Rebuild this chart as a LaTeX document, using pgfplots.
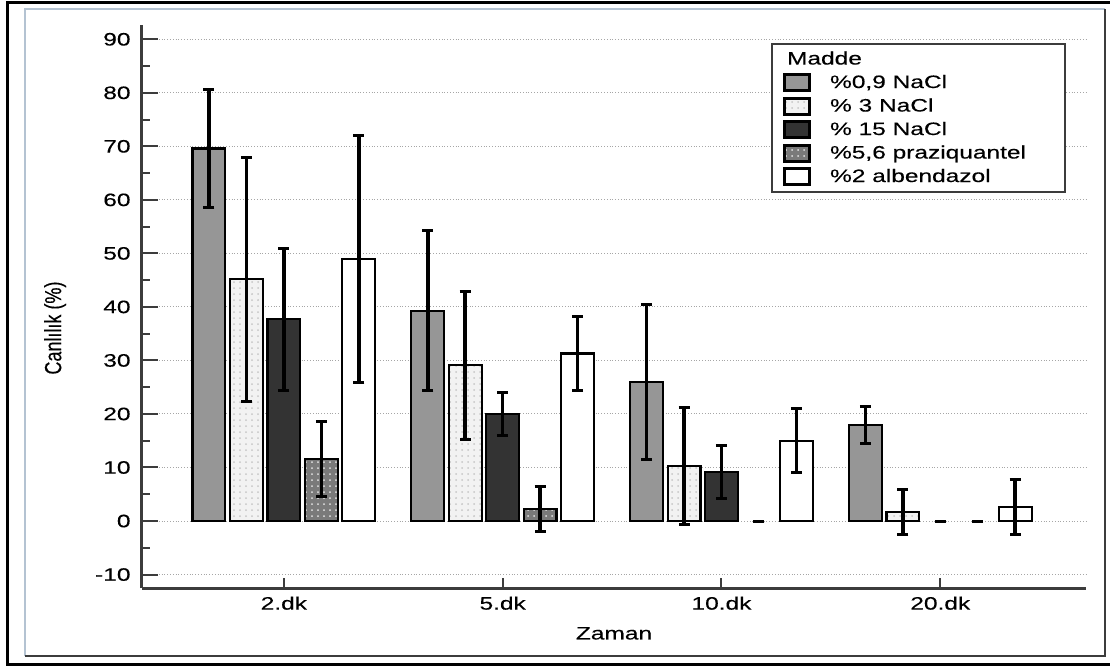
\documentclass[border=0pt]{standalone}
\usepackage{pgfplots}
\pgfplotsset{compat=1.18}
\usepackage{pgfplotstable}
\usepackage{graphicx}
\usepackage{fontspec}
\setmainfont{Liberation Sans}[FakeStretch=1.36, FakeBold=0.3]
\newfontfamily\plainfont{Liberation Sans}[FakeBold=0.3]
\usetikzlibrary{patterns}
\definecolor{axisgray}{HTML}{3C3C3C}
\definecolor{barA}{HTML}{969696}
\definecolor{barB}{HTML}{F2F2F2}
\definecolor{barC}{HTML}{333333}
\definecolor{barD}{HTML}{7A7A7A}
\definecolor{frameL}{HTML}{B4C3D2}
\newcommand{\fsz}{\fontsize{9}{10.8}\selectfont}

% x = category index + bar offset, y = mean, e = error
\pgfplotstableread{
x y e
-0.3424 69.6 11.0
0.6576 39.3 15.0
1.6576 26.0 14.5
2.6576 17.9 3.5
}\seriesA
\pgfplotstableread{
x y e
-0.1712 45.2 22.8
0.8288 29.1 13.8
1.8288 10.3 11.0
2.8288 1.7 4.2
}\seriesB
\pgfplotstableread{
x y e
0 37.7 13.3
1 20.0 4.0
2 9.2 5.0
}\seriesC
\pgfplotstableread{
x y e
0.1712 11.6 7.0
1.1712 2.2 4.2
}\seriesD
\pgfplotstableread{
x y e
0.3424 49.0 23.1
1.3424 31.3 7.0
2.3424 15.0 6.0
3.3424 2.6 5.1
}\seriesE
\pgfplotstableread{
x y
2.1712 0
3 0
3.1712 0
}\zeros

\pgfplotsset{
  barleg/.style={legend image code/.code={\draw[##1, line width=1.3pt, draw=black] (0pt,-4pt) rectangle (12.5pt,4pt);}},
  errs/.style={error bars/.cd, y dir=both, y explicit,
    error bar style={line width=1.8pt, black},
    error mark options={rotate=90, line width=1.5pt, mark size=2.75pt, black}},
}

\begin{document}
\begin{tikzpicture}[x=1pt,y=1pt]
\useasboundingbox (0,0) rectangle (555,333);
\draw[line width=1.5pt, black] (560,331.75) -- (3.75,331.75) -- (3.75,0.75) -- (560,0.75);
\draw[line width=1pt, frameL] (12.5,5) -- (12.5,328.5) -- (552.5,328.5);
\draw[line width=1pt, axisgray] (552.5,328.5) -- (552.5,5) -- (12.5,5);
\begin{axis}[
  at={(71pt,38.85pt)}, anchor=south west,
  scale only axis, width=472pt, height=281.65pt,
  xmin=-0.6485, xmax=3.666, ymin=-12.57, ymax=92.67,
  axis x line*=bottom, axis y line*=left,
  axis line style={-, line width=1.5pt, draw=axisgray},
  xtick={0,1,2,3}, xticklabels={2.dk,5.dk,10.dk,20.dk},
  ytick={-10,0,10,20,30,40,50,60,70,80,90},
  minor ytick={-5,5,15,25,35,45,55,65,75,85},
  tick align=inside,
  major tick length=8pt, minor tick length=4pt,
  xtick style={/pgfplots/major tick length=5.25pt},
  tick style={line width=1pt, draw=axisgray},
  ymajorgrids, grid style={densely dotted, line width=0.5pt, draw=gray!70},
  /pgf/number format/assume math mode=true,
  tick label style={font=\fsz, black},
  yticklabel style={xshift=-2.2pt},
  xticklabel style={yshift=-0.6pt},
  label style={font=\fsz},
  xlabel={Zaman},
  ylabel={\plainfont\scalebox{1}[1.3]{Canlılık (\%)}},
  xlabel style={at={(axis description cs:0.5,-0.08)}, anchor=center},
  ylabel style={at={(axis description cs:-0.092,0.462)}, anchor=center},
  legend style={at={(0.6663,0.968)}, anchor=north west, draw=axisgray, line width=1pt,
    fill=white, font=\fsz, inner xsep=5.5pt, inner ysep=1.75pt, row sep=0pt,
    column sep=8.5pt,
    nodes={inner sep=1.25pt, text height=7.25pt, text depth=2pt}},
  legend cell align=left,
]
\addlegendimage{empty legend}
\addlegendentry{\hspace*{-21.5pt}Madde}
\addplot[ybar, bar width=0.15, bar shift=0pt, draw=black, line width=1.1pt, fill=barA, barleg, errs]
  table[x=x, y=y, y error=e] {\seriesA};
\addlegendentry{\%0,9 NaCl}
\addplot[ybar, bar width=0.15, bar shift=0pt, draw=black, line width=1.1pt, fill=barB,
  postaction={pattern=dots, pattern color=gray!45}, barleg, errs]
  table[x=x, y=y, y error=e] {\seriesB};
\addlegendentry{\% 3 NaCl}
\addplot[ybar, bar width=0.15, bar shift=0pt, draw=black, line width=1.1pt, fill=barC, barleg, errs]
  table[x=x, y=y, y error=e] {\seriesC};
\addlegendentry{\% 15 NaCl}
\addplot[ybar, bar width=0.15, bar shift=0pt, draw=black, line width=1.1pt, fill=barD,
  postaction={pattern=dots, pattern color=white!80!gray}, barleg, errs]
  table[x=x, y=y, y error=e] {\seriesD};
\addlegendentry{\makebox[110.5pt][l]{\%5,6 praziquantel}}
\addplot[ybar, bar width=0.15, bar shift=0pt, draw=black, line width=1.1pt, fill=white, barleg, errs]
  table[x=x, y=y, y error=e] {\seriesE};
\addlegendentry{\%2 albendazol}
\addplot[only marks, mark=-, mark size=2.75pt, mark options={line width=1.5pt, black}, forget plot]
  table[x=x, y=y] {\zeros};
\end{axis}
\end{tikzpicture}
\end{document}
